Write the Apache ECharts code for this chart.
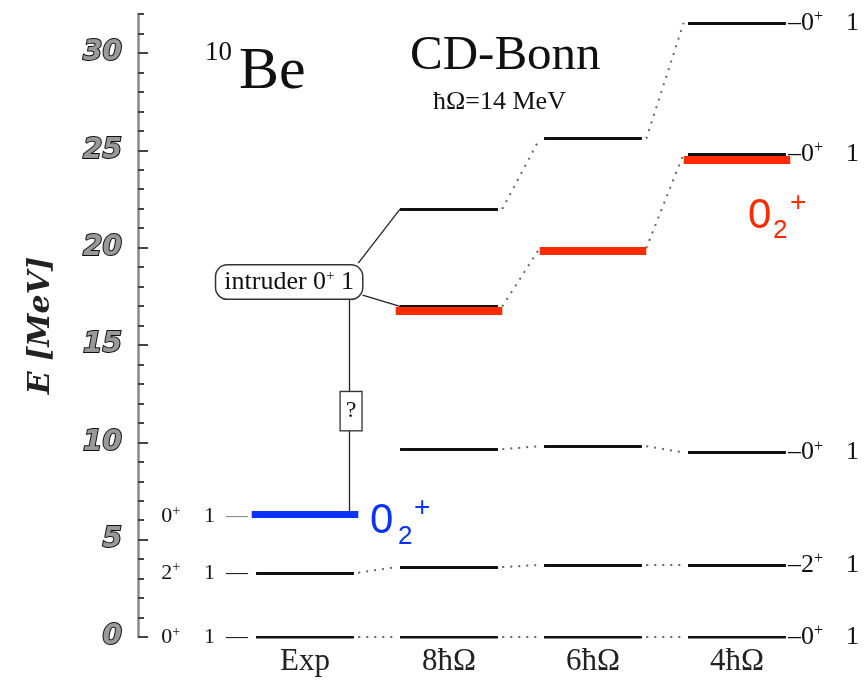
<!DOCTYPE html>
<html>
<head>
<meta charset="utf-8">
<script src="https://cdn.jsdelivr.net/npm/echarts@6/dist/echarts.min.js"></script>
<style>
  html, body { margin: 0; padding: 0; background: #fff; }
  #chart { width: 868px; height: 683px; }
</style>
</head>
<body>
<div id="chart"></div>
<script>
// Level scheme of 10Be: experiment vs. no-core shell model (CD-Bonn, ħΩ = 14 MeV)
const columns = ['Exp', '8ħΩ', '6ħΩ', '4ħΩ'];

// Excitation energies (MeV) per column; null = level not shown in that column
const ground0   = [0.0, 0.0, 0.0, 0.0];
const first2    = [3.30, 3.59, 3.70, 3.71];
const second0   = [6.19, 9.65, 9.80, 9.48];
const intruder0 = [null, 16.98, 19.97, 24.82];
const upper0    = [null, 21.98, 25.60, 31.55];

// Highlighted 0₂⁺ states
const blueMark = [6.30, null, null, null];
const redMark  = [null, 16.74, 19.85, 24.51];

// Spin labels drawn beside the Exp and 4ħΩ columns
const expLabels   = ['0', '2', '0'];
const rightLabels = ['0', '2', '0', '0', '0'];

// Energy axis ticks
const majorTicks = [0, 5, 10, 15, 20, 25, 30];
const minorTicks = [];
for (let v = 0; v <= 32; v++) minorTicks.push(v);

const SERIF = 'Liberation Serif';
const SANS = 'Liberation Sans';
const HW = 0.34;   // half width of a level bar, in column units

const families = [
  { values: ground0,   linkFrom: 0 },
  { values: first2,    linkFrom: 0 },
  { values: second0,   linkFrom: 1 },
  { values: intruder0, linkFrom: 1 },
  { values: upper0,    linkFrom: 1 }
];

const levelSegs = [];
const linkSegs = [];
families.forEach(f => {
  f.values.forEach((v, i) => {
    if (v === null) return;
    levelSegs.push({ coords: [[i + 1 - HW, v], [i + 1 + HW, v]] });
  });
  for (let i = f.linkFrom; i < f.values.length - 1; i++) {
    const a = f.values[i], b = f.values[i + 1];
    if (a === null || b === null) continue;
    linkSegs.push({ coords: [[i + 1 + HW + 0.03, a], [i + 2 - HW - 0.03, b]] });
  }
});

const markSegs = (arr) => arr.map((v, i) => v === null ? null :
  { coords: [[i + 1 - HW - 0.03, v], [i + 1 + HW + 0.03, v]] }).filter(Boolean);

// Intruder annotation: box, its links to the 8ħΩ levels and the drop to the Exp state
const boxAt = [0.89, 18.23];
const qAt = [1.32, 11.6];
const annoSegs = [
  { coords: [[1.37, 19.2], [2 - HW, upper0[1]]] },
  { coords: [[1.40, 17.56], [2 - HW, intruder0[1]]] },
  { coords: [[1.31, 17.4], [1.31, blueMark[0] + 0.1]] }
];

const makeRich = (size, sup) => ({
  s: { fontFamily: SERIF, fontSize: sup, verticalAlign: 'top', color: '#111', lineHeight: size + 2 },
  n: { fontFamily: SERIF, fontSize: size, color: '#111', lineHeight: size + 2 },
  g: { fontFamily: SERIF, fontSize: size, color: '#888', lineHeight: size + 2 },
  w: { width: 23, fontSize: size, lineHeight: size + 2 },
  ww: { width: 24, fontSize: size, lineHeight: size + 2 }
});

const rightFamilies = [ground0, first2, second0, intruder0, upper0];
const rightData = rightFamilies.map((f, k) => ({
  value: [4 + HW, f[3]],
  label: { formatter: '{n|–' + rightLabels[k] + '}{s|+}{w| }{n|1}' }
}));

const expFamilies = [ground0, first2, second0];
const expData = expFamilies.map((f, k) => ({
  value: [1 - HW, f[0]],
  label: { formatter: '{n|' + expLabels[k] + '}{s|+}{ww| }{n|1  }' + (k === 2 ? '{g|—}' : '{n|—}') }
}));

const labelSeries = (extra) => Object.assign({
  type: 'scatter', symbolSize: 0, z: 10, silent: true,
  itemStyle: { opacity: 1 }
}, extra);

const chart = echarts.init(document.getElementById('chart'), null, { renderer: 'canvas' });

chart.setOption({
  animation: false,
  backgroundColor: '#fff',
  grid: { left: 161, right: 0, top: 14, bottom: 46 },
  xAxis: {
    type: 'value', min: 0, max: 4.91,
    axisLine: { show: false }, axisTick: { show: false }, splitLine: { show: false },
    axisLabel: {
      customValues: [1, 2, 3, 4],
      formatter: v => columns[Math.round(v) - 1] || '',
      fontFamily: SERIF, fontSize: 31, color: '#222', margin: 9
    }
  },
  yAxis: [
    {
      type: 'value', min: 0, max: 32, position: 'left', offset: 23,
      name: 'E [MeV]', nameLocation: 'middle', nameGap: 82,
      nameTextStyle: { fontFamily: 'DejaVu Serif', fontStyle: 'italic', fontWeight: 'bold', fontSize: 30, color: '#222' },
      axisLine: { show: true, onZero: false, lineStyle: { color: '#888', width: 2.5 } },
      axisTick: { show: true, inside: true, length: 10, customValues: majorTicks, lineStyle: { color: '#444', width: 2 } },
      axisLabel: {
        customValues: majorTicks, margin: 16,
        fontFamily: 'DejaVu Sans', fontStyle: 'italic', fontWeight: 'bold', fontSize: 28,
        color: '#999', textBorderColor: '#111', textBorderWidth: 2
      },
      splitLine: { show: false }
    },
    {
      type: 'value', min: 0, max: 32, position: 'left', offset: 23,
      axisLine: { show: false, onZero: false },
      axisTick: { show: true, inside: true, length: 6, customValues: minorTicks, lineStyle: { color: '#444', width: 2 } },
      axisLabel: { show: false },
      splitLine: { show: false }
    }
  ],
  series: [
    {
      type: 'lines', coordinateSystem: 'cartesian2d', polyline: false, z: 3,
      lineStyle: { color: '#666', width: 2, type: [2, 6], opacity: 1 },
      data: linkSegs
    },
    {
      type: 'lines', coordinateSystem: 'cartesian2d', polyline: false, z: 3,
      lineStyle: { color: '#222', width: 1.3, opacity: 1 },
      data: annoSegs
    },
    {
      type: 'lines', coordinateSystem: 'cartesian2d', polyline: false, z: 4,
      lineStyle: { color: '#111', width: 3.2, opacity: 1 },
      data: levelSegs
    },
    {
      type: 'lines', coordinateSystem: 'cartesian2d', polyline: false, z: 5,
      lineStyle: { color: '#ff2a00', width: 8, opacity: 1, cap: 'butt' },
      data: markSegs(redMark)
    },
    {
      type: 'lines', coordinateSystem: 'cartesian2d', polyline: false, z: 5,
      lineStyle: { color: '#0a32ff', width: 7, opacity: 1, cap: 'butt' },
      data: markSegs(blueMark)
    },
    labelSeries({
      label: { show: true, position: 'right', distance: 2, rich: makeRich(26, 16) },
      data: rightData
    }),
    labelSeries({
      label: { show: true, position: 'left', distance: 8, rich: makeRich(22, 14) },
      data: expData
    }),
    labelSeries({
      label: {
        show: true, position: 'inside',
        formatter: '{n|intruder 0}{s|+}{n| 1}',
        backgroundColor: '#fff', borderColor: '#333', borderWidth: 1.5, borderRadius: 11,
        padding: [3, 8, 2, 8],
        rich: makeRich(26, 15)
      },
      data: [boxAt]
    }),
    labelSeries({
      label: {
        show: true, position: 'inside', formatter: '?',
        fontFamily: SERIF, fontSize: 24, color: '#111',
        backgroundColor: '#fff', borderColor: '#333', borderWidth: 1.3,
        padding: [8, 5, 6, 5]
      },
      data: [qAt]
    })
  ],
  graphic: [
    { type: 'text', left: 205, top: 39, style: { text: '10', font: '27px ' + SERIF, fill: '#111' } },
    { type: 'text', left: 239, top: 42, style: { text: 'Be', font: '60px ' + SERIF, fill: '#111' } },
    { type: 'text', left: 410, top: 32, style: { text: 'CD-Bonn', font: '49px ' + SERIF, fill: '#111' } },
    { type: 'text', left: 433, top: 89, style: { text: 'ħΩ=14 MeV', font: '26px ' + SERIF, fill: '#111' } },
    { type: 'text', left: 370, top: 500, style: { text: '0', font: '42px ' + SANS, fill: '#0a32ff' } },
    { type: 'text', left: 398, top: 524, style: { text: '2', font: '26px ' + SANS, fill: '#0a32ff' } },
    { type: 'text', left: 414, top: 494, style: { text: '+', font: '28px ' + SANS, fill: '#0a32ff' } },
    { type: 'text', left: 748, top: 195, style: { text: '0', font: '42px ' + SANS, fill: '#ff2a00' } },
    { type: 'text', left: 773, top: 218, style: { text: '2', font: '26px ' + SANS, fill: '#ff2a00' } },
    { type: 'text', left: 790, top: 189, style: { text: '+', font: '28px ' + SANS, fill: '#ff2a00' } }
  ]
});
</script>
</body>
</html>
